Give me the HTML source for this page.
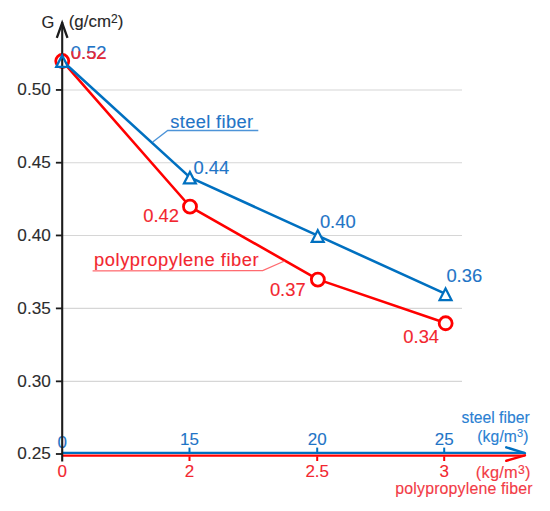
<!DOCTYPE html>
<html><head><meta charset="utf-8">
<style>
html,body{margin:0;padding:0;background:#fff;}
body{width:550px;height:511px;overflow:hidden;}
svg{display:block;}
text{font-family:"Liberation Sans",sans-serif;fill:currentColor;stroke:currentColor;stroke-width:0.12px;paint-order:stroke;}
</style></head>
<body>
<svg width="550" height="511" viewBox="0 0 550 511">
<defs>
<clipPath id="lowclip"><rect x="0" y="51.3" width="550" height="20"/></clipPath>
</defs>
<rect width="550" height="511" fill="#fff"/>
<g stroke="#d6d6d6" stroke-width="1.1">
<line x1="63" y1="89.95" x2="462" y2="89.95"/>
<line x1="63" y1="162.7" x2="462" y2="162.7"/>
<line x1="63" y1="235.45" x2="462" y2="235.45"/>
<line x1="63" y1="308.4" x2="462" y2="308.4"/>
<line x1="63" y1="381.35" x2="462" y2="381.35"/>
</g>
<g font-size="17.2" color="#2c2c2c" text-anchor="end">
<text x="50.8" y="95.40">0.50</text>
<text x="50.8" y="168.15">0.45</text>
<text x="50.8" y="240.90">0.40</text>
<text x="50.8" y="313.85">0.35</text>
<text x="50.8" y="386.80">0.30</text>
<text x="50.8" y="459.45">0.25</text>
</g>
<g color="#262626" font-size="16.5">
<text x="41.6" y="28.0">G</text>
<text x="68.7" y="27.4" font-size="16.9" letter-spacing="0.02">(g/cm<tspan font-size="12" dy="-4.4">2</tspan><tspan dy="4.4">)</tspan></text>
</g>
<g fill="none" stroke-linecap="round">
<line x1="62" y1="452.8" x2="524.6" y2="452.8" stroke="#0070c0" stroke-width="2.3" stroke-linecap="butt"/>
<line x1="62" y1="455.6" x2="524.6" y2="455.6" stroke="#ff0000" stroke-width="2.3" stroke-linecap="butt"/>
<line x1="506.3" y1="447.4" x2="524.9" y2="453.1" stroke="#0070c0" stroke-width="2.5"/>
<line x1="506.3" y1="460.8" x2="524.9" y2="455.4" stroke="#ff0000" stroke-width="2.5"/>
</g>
<g stroke="#0070c0" stroke-width="2">
<line x1="189.5" y1="447.6" x2="189.5" y2="452"/>
<line x1="317.2" y1="447.6" x2="317.2" y2="452"/>
<line x1="444.2" y1="447.6" x2="444.2" y2="452"/>
</g>
<g stroke="#ff0000" stroke-width="2">
<line x1="189.5" y1="456.4" x2="189.5" y2="461"/>
<line x1="317.2" y1="456.4" x2="317.2" y2="461"/>
<line x1="444.2" y1="456.4" x2="444.2" y2="461"/>
</g>
<g font-size="17.0" color="#1f74c6" text-anchor="middle">
<text x="62.2" y="447.8">0</text>
<text x="189.5" y="444.7">15</text>
<text x="317.2" y="444.7">20</text>
<text x="444.2" y="444.7">25</text>
</g>
<g font-size="17.0" color="#f2262f" text-anchor="middle">
<text x="62.2" y="476.8">0</text>
<text x="189.5" y="476.8">2</text>
<text x="317.2" y="476.8">2.5</text>
<text x="444.2" y="476.8">3</text>
</g>
<g font-size="15.7" color="#2a80d2">
<text x="461.6" y="423.2">steel fiber</text>
<text x="477.3" y="442.3" letter-spacing="0.1">(kg/m<tspan font-size="11" dy="-5.0">3</tspan><tspan dy="5.0">)</tspan></text>
</g>
<g color="#f23a45">
<text x="475.8" y="477.6" font-size="16.4" letter-spacing="0.25">(kg/m<tspan font-size="12.2" dy="-3.9">3</tspan><tspan dy="3.9">)</tspan></text>
<text x="395.3" y="494.3" font-size="15.9" letter-spacing="0.17">polypropylene fiber</text>
</g>
<polyline points="62.15,60.81 189.90,206.51 317.75,279.36 445.55,323.07" fill="none" stroke="#ff0000" stroke-width="2.6" stroke-linejoin="round"/>
<g fill="#fff" stroke="#ff0000" stroke-width="2.8">
<circle cx="62.25" cy="61.01" r="6.5"/>
<circle cx="190.00" cy="206.71" r="6.5"/>
<circle cx="317.85" cy="279.56" r="6.5"/>
<circle cx="445.65" cy="323.27" r="6.5"/>
</g>
<polyline points="62.15,60.81 189.90,177.37 317.75,235.65 445.55,293.93" fill="none" stroke="#0070c0" stroke-width="2.6" stroke-linejoin="round"/>
<g fill="#fff" stroke="none">
<path d="M62.15,55.36 L56.20,66.91 L68.10,66.91 Z"/>
<path d="M189.90,171.92 L183.95,183.47 L195.85,183.47 Z"/>
<path d="M317.75,230.20 L311.80,241.75 L323.70,241.75 Z"/>
<path d="M445.55,288.48 L439.60,300.03 L451.50,300.03 Z"/>
</g>
<line x1="62.2" y1="22" x2="62.2" y2="461.5" stroke="#1c1c1c" stroke-width="2.1"/>
<polyline points="56.8,37.9 62.15,23.0 67.5,37.9" fill="none" stroke="#1c1c1c" stroke-width="2.3" stroke-linejoin="miter" stroke-miterlimit="10"/>
<g stroke="#1c1c1c" stroke-width="1.8">
<line x1="55.9" y1="89.95" x2="62" y2="89.95"/>
<line x1="55.9" y1="162.7" x2="62" y2="162.7"/>
<line x1="55.9" y1="235.45" x2="62" y2="235.45"/>
<line x1="55.9" y1="308.4" x2="62" y2="308.4"/>
<line x1="55.9" y1="381.35" x2="62" y2="381.35"/>
<line x1="55.9" y1="454.0" x2="62" y2="454.0"/>
</g>
<g fill="none" stroke="#0070c0" stroke-width="2.25" stroke-linejoin="miter" stroke-miterlimit="10">
<path d="M62.15,55.36 L56.20,66.91 L68.10,66.91 Z"/>
<path d="M189.90,171.92 L183.95,183.47 L195.85,183.47 Z"/>
<path d="M317.75,230.20 L311.80,241.75 L323.70,241.75 Z"/>
<path d="M445.55,288.48 L439.60,300.03 L451.50,300.03 Z"/>
</g>
<polyline points="152.7,142.1 167.7,130.5 258.3,130.5" fill="none" stroke="#4d94d8" stroke-width="1.3"/>
<text x="170.3" y="127.6" font-size="18.3" color="#1f74c6" letter-spacing="0.35">steel fiber</text>
<polyline points="92.6,270.9 262.7,270.7 284.5,261" fill="none" stroke="#ff6b70" stroke-width="1.3"/>
<text x="94.1" y="265.5" font-size="18.3" color="#f2262f" letter-spacing="0.56">polypropylene fiber</text>
<g font-size="18.4">
<text x="70.8" y="59.0" color="#1f74c6">0.52</text>
<text x="193.5" y="173.8" color="#1f74c6">0.44</text>
<text x="143.2" y="222.3" color="#f2262f">0.42</text>
<text x="319.9" y="228.3" color="#1f74c6">0.40</text>
<text x="269.9" y="296.4" color="#f2262f">0.37</text>
<text x="446.4" y="281.6" color="#1f74c6">0.36</text>
<text x="403.3" y="342.9" color="#f2262f">0.34</text>
<text x="70.8" y="59.0" color="#f2262f" clip-path="url(#lowclip)">0.52</text>
</g>
</svg>
</body></html>
